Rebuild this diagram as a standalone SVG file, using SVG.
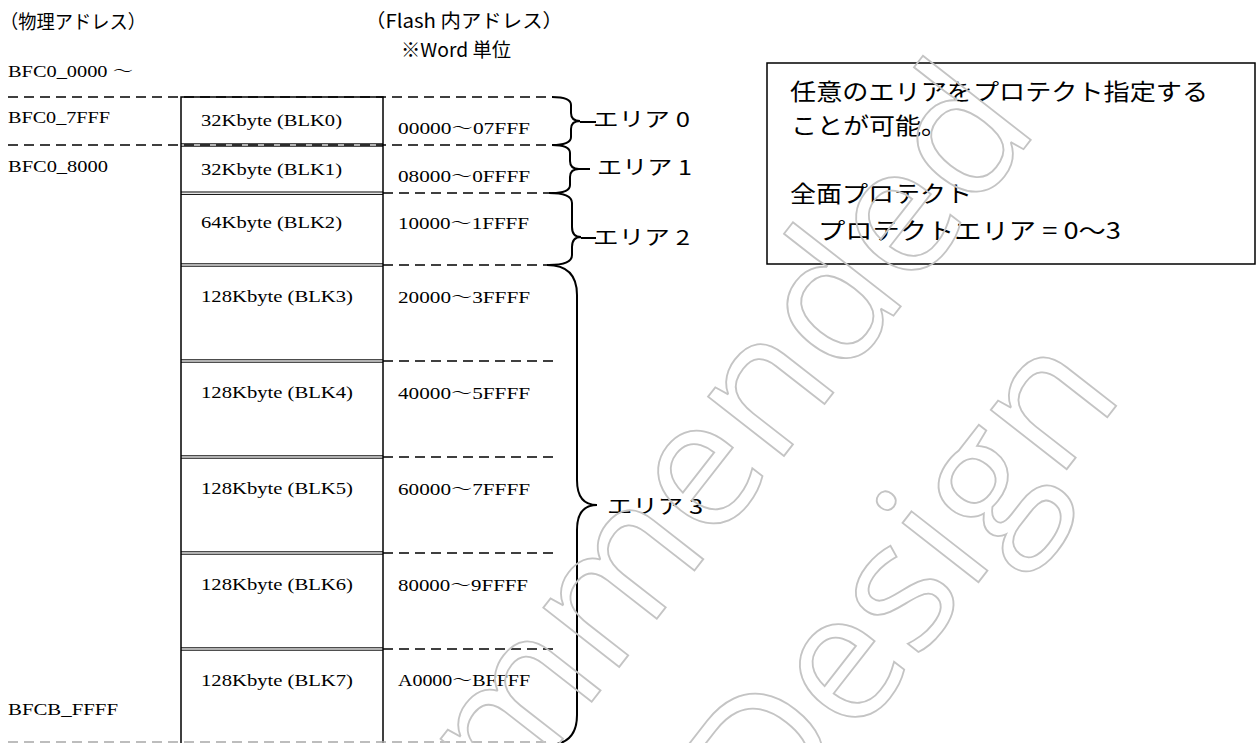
<svg xmlns="http://www.w3.org/2000/svg" width="1259" height="743" viewBox="0 0 1259 743">
<style>
.ln{stroke:#000;stroke-width:1.5;fill:none}
.dbl{stroke:#000;stroke-width:1;fill:none}
.dash{stroke:#000;stroke-width:1.6;stroke-dasharray:10 6;fill:none}
.brace{stroke:#000;stroke-width:2;fill:none}
.serif{font-family:"Liberation Serif","Noto Serif CJK JP","Noto Sans CJK JP",serif;font-size:17px;fill:#000}
.jp{font-family:"Noto Sans CJK JP",sans-serif;fill:#000}
.hd{font-size:19px}
.ar{font-size:20px}
.bx{font-size:23px}
.wm{font-family:"Open Sans",sans-serif;font-size:180px;fill:none;stroke:#c4c4c4;stroke-width:1.8}
</style>
<rect width="1259" height="743" fill="#fff"/>
<g id="headers">
<text class="jp hd" x="0" y="29" textLength="146" lengthAdjust="spacingAndGlyphs">（物理アドレス）</text>
<text class="jp hd" x="365" y="28" textLength="198" lengthAdjust="spacingAndGlyphs">（Flash 内アドレス）</text>
<text class="jp hd" x="401" y="57" textLength="110" lengthAdjust="spacingAndGlyphs">※Word 単位</text>
</g>
<g id="phys-labels">
<text class="serif" x="8" y="77" textLength="125" lengthAdjust="spacingAndGlyphs">BFC0_0000 ～</text>
<text class="serif" x="8" y="123" textLength="102" lengthAdjust="spacingAndGlyphs">BFC0_7FFF</text>
<text class="serif" x="8" y="172" textLength="100" lengthAdjust="spacingAndGlyphs">BFC0_8000</text>
<text class="serif" x="8" y="715" textLength="110" lengthAdjust="spacingAndGlyphs">BFCB_FFFF</text>
</g>
<g id="memory-map">
<rect class="ln" x="181" y="97" width="202" height="660"/>
<line class="dbl" x1="181" y1="143.8" x2="383" y2="143.8"/><line class="dbl" x1="181" y1="146.2" x2="383" y2="146.2"/>
<line class="dbl" x1="181" y1="192" x2="383" y2="192"/><line class="dbl" x1="181" y1="194.4" x2="383" y2="194.4"/>
<line class="dbl" x1="181" y1="263.8" x2="383" y2="263.8"/><line class="dbl" x1="181" y1="266.2" x2="383" y2="266.2"/>
<line class="dbl" x1="181" y1="359.8" x2="383" y2="359.8"/><line class="dbl" x1="181" y1="362.2" x2="383" y2="362.2"/>
<line class="dbl" x1="181" y1="455.8" x2="383" y2="455.8"/><line class="dbl" x1="181" y1="458.2" x2="383" y2="458.2"/>
<line class="dbl" x1="181" y1="551.8" x2="383" y2="551.8"/><line class="dbl" x1="181" y1="554.2" x2="383" y2="554.2"/>
<line class="dbl" x1="181" y1="647.8" x2="383" y2="647.8"/><line class="dbl" x1="181" y1="650.2" x2="383" y2="650.2"/>
</g>
<g id="blk0"><text class="serif" x="201" y="126" textLength="141" lengthAdjust="spacingAndGlyphs">32Kbyte (BLK0)</text><text class="serif" x="398" y="134" textLength="132" lengthAdjust="spacingAndGlyphs">00000～07FFF</text></g>
<g id="blk1"><text class="serif" x="201" y="175" textLength="141" lengthAdjust="spacingAndGlyphs">32Kbyte (BLK1)</text><text class="serif" x="398" y="182" textLength="132" lengthAdjust="spacingAndGlyphs">08000～0FFFF</text></g>
<g id="blk2"><text class="serif" x="201" y="228" textLength="141" lengthAdjust="spacingAndGlyphs">64Kbyte (BLK2)</text><text class="serif" x="398" y="229" textLength="131" lengthAdjust="spacingAndGlyphs">10000～1FFFF</text></g>
<g id="blk3"><text class="serif" x="201" y="302" textLength="152" lengthAdjust="spacingAndGlyphs">128Kbyte (BLK3)</text><text class="serif" x="398" y="303" textLength="132" lengthAdjust="spacingAndGlyphs">20000～3FFFF</text></g>
<g id="blk4"><text class="serif" x="201" y="398" textLength="152" lengthAdjust="spacingAndGlyphs">128Kbyte (BLK4)</text><text class="serif" x="398" y="399" textLength="132" lengthAdjust="spacingAndGlyphs">40000～5FFFF</text></g>
<g id="blk5"><text class="serif" x="201" y="494" textLength="152" lengthAdjust="spacingAndGlyphs">128Kbyte (BLK5)</text><text class="serif" x="398" y="495" textLength="132" lengthAdjust="spacingAndGlyphs">60000～7FFFF</text></g>
<g id="blk6"><text class="serif" x="201" y="590" textLength="152" lengthAdjust="spacingAndGlyphs">128Kbyte (BLK6)</text><text class="serif" x="398" y="591" textLength="130" lengthAdjust="spacingAndGlyphs">80000～9FFFF</text></g>
<g id="blk7"><text class="serif" x="201" y="686" textLength="152" lengthAdjust="spacingAndGlyphs">128Kbyte (BLK7)</text><text class="serif" x="398" y="686" textLength="132" lengthAdjust="spacingAndGlyphs">A0000～BFFFF</text></g>
<g id="connectors">
<line class="dash" x1="8" y1="97" x2="552" y2="97"/>
<line class="dash" x1="8" y1="145" x2="552" y2="145"/>
<line class="dash" x1="383" y1="193" x2="554" y2="193"/>
<line class="dash" x1="383" y1="265" x2="550" y2="265"/>
<line class="dash" x1="383" y1="361" x2="555" y2="361"/>
<line class="dash" x1="383" y1="457" x2="555" y2="457"/>
<line class="dash" x1="383" y1="553" x2="555" y2="553"/>
<line class="dash" x1="383" y1="649" x2="554" y2="649"/>
<line x1="8" y1="742" x2="548" y2="742" stroke="#a8a8a8" stroke-width="1.6" stroke-dasharray="10 6"/>
<path class="brace" d="M552,97 Q571,97 571,105 L571,113 Q571,121 580,121 Q571,121 571,129 L571,137 Q571,145 552,145 M580,122 L596,122"/>
<path class="brace" d="M552,145 Q570,145 570,153 L570,161 Q570,169 579,169 Q570,169 570,177 L570,185 Q570,193 552,193 M579,169 L590,169"/>
<path class="brace" d="M549,193 Q572,193 572,203 L572,227 Q572,237 581,237 Q572,237 572,247 L572,255 Q572,265 549,265 M581,238 L596,238"/>
<path class="brace" d="M547,265 Q577,265 577,295 L577,480 Q577,505 597,505 Q577,505 577,530 L577,715 Q577,745 547,745"/>
</g>
<g id="area-labels">
<text class="jp ar" x="593" y="127" textLength="97" lengthAdjust="spacingAndGlyphs">エリア 0</text>
<text class="jp ar" x="597" y="175" textLength="95" lengthAdjust="spacingAndGlyphs">エリア 1</text>
<text class="jp ar" x="593" y="245" textLength="97" lengthAdjust="spacingAndGlyphs">エリア 2</text>
<text class="jp ar" x="607" y="514" textLength="96" lengthAdjust="spacingAndGlyphs">エリア 3</text>
</g>
<g id="note">
<rect class="ln" x="767" y="63" width="488" height="201"/>
<text class="jp bx" x="790" y="100" textLength="418" lengthAdjust="spacingAndGlyphs">任意のエリアをプロテクト指定する</text>
<text class="jp bx" x="791" y="134" textLength="156" lengthAdjust="spacingAndGlyphs">ことが可能。</text>
<text class="jp bx" x="790" y="202" textLength="182" lengthAdjust="spacingAndGlyphs">全面プロテクト</text>
<text class="jp bx" x="818" y="239" textLength="303" lengthAdjust="spacingAndGlyphs">プロテクトエリア = 0～3</text>
</g>
<g id="watermark" transform="translate(712,470) rotate(-52)">
<text class="wm" x="-801" y="48">Recommended</text>
<text class="wm" x="-257" y="279">Design</text>
</g>
</svg>
